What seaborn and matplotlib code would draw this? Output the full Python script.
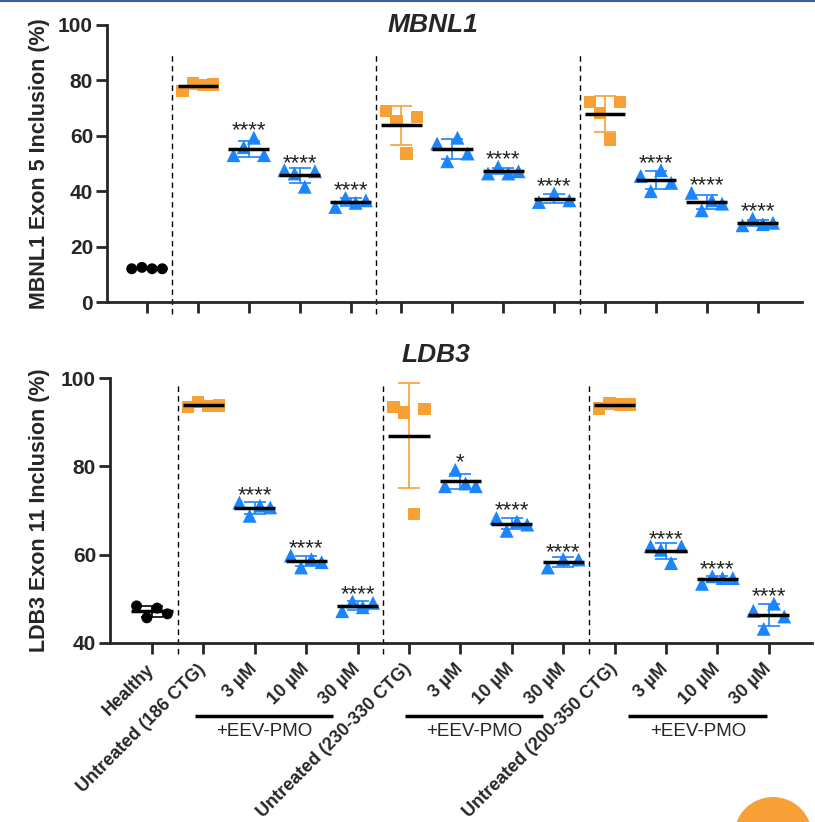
import numpy as np
import pandas as pd
import matplotlib
matplotlib.use("Agg")
import matplotlib.pyplot as plt
import matplotlib.transforms as mtransforms
from matplotlib.patches import Circle
from matplotlib.lines import Line2D
import seaborn as sns

# --- data ---
CATEGORIES = ["Healthy", "Untreated (186 CTG)", "3 µM", "10 µM", "30 µM",
              "Untreated (230-330 CTG)", "3 µM", "10 µM", "30 µM",
              "Untreated (200-350 CTG)", "3 µM", "10 µM", "30 µM"]
KINDS = ["healthy", "untreated", "treated", "treated", "treated",
         "untreated", "treated", "treated", "treated",
         "untreated", "treated", "treated", "treated"]

MBNL1_VALUES = [
    [12.0, 12.5, 12.0, 12.0],
    [76.3, 79.0, 78.3, 78.5],
    [53.0, 55.9, 59.3, 53.0],
    [47.6, 46.4, 41.6, 47.2],
    [34.3, 37.6, 35.8, 36.7],
    [69.0, 65.4, 53.6, 66.9],
    [57.2, 50.8, 59.3, 53.6],
    [46.4, 48.8, 46.4, 47.2],
    [36.1, 39.2, 36.7],
    [72.3, 68.1, 58.7, 72.3],
    [45.5, 40.0, 47.6, 43.0],
    [39.4, 33.1, 36.7, 35.5],
    [27.7, 30.1, 28.1, 28.6],
]
MBNL1_STARS = ["", "", "****", "****", "****", "", "", "****", "****",
               "", "****", "****", "****"]

LDB3_VALUES = [
    [48.4, 45.7, 47.9, 46.6],
    [93.4, 94.5, 93.7, 93.8],
    [71.8, 68.8, 71.1, 70.7],
    [59.8, 57.1, 59.0, 58.3],
    [47.2, 49.4, 48.1, 49.1],
    [93.4, 92.2, 69.2, 93.0],
    [75.5, 79.2, 76.1, 75.5],
    [68.3, 65.4, 67.5, 66.8],
    [57.1, 59.0, 58.9],
    [93.1, 94.2, 94.0, 94.0],
    [61.9, 61.1, 58.1, 61.9],
    [53.4, 55.1, 54.7, 54.7],
    [47.3, 43.2, 48.9, 46.0],
]
LDB3_STARS = ["", "", "****", "****", "****", "", "*", "****", "****",
              "", "****", "****", "****"]

COLORS = {"healthy": "black", "untreated": "#F7A035", "treated": "#1A85FF"}
MARKERS = {"healthy": "o", "untreated": "s", "treated": "^"}
SIZES = {"healthy": 62, "untreated": 78, "treated": 100}

sns.set_style("ticks")
plt.rcParams["font.family"] = ["Liberation Sans", "DejaVu Sans"]
plt.rcParams["font.weight"] = "bold"


def long_table(values):
    rows = []
    for i, vals in enumerate(values):
        offsets = np.linspace(-0.3, 0.3, len(vals))
        for off, v in zip(offsets, vals):
            rows.append({"x": i + off, "value": v, "kind": KINDS[i]})
    return pd.DataFrame(rows)


def draw_panel(ax, values, stars, ylim, yticks, ylabel, sep_top):
    df = long_table(values)
    sns.scatterplot(data=df, x="x", y="value", hue="kind", style="kind",
                    size="kind", sizes=SIZES, palette=COLORS, markers=MARKERS,
                    linewidth=0, legend=False, ax=ax, zorder=3)
    for i, vals in enumerate(values):
        m = np.mean(vals)
        sd = np.std(vals, ddof=1)
        ax.errorbar(i, m, yerr=sd, fmt="none", ecolor=COLORS[KINDS[i]],
                    elinewidth=1.2, capsize=8, capthick=1.2, zorder=2)
        ax.hlines(m, i - 0.4, i + 0.4, color="black", lw=2.5, zorder=4)
        if stars[i]:
            ax.annotate(stars[i], (i, max(vals)), xytext=(0, 1),
                        textcoords="offset points", ha="center", va="baseline",
                        fontsize=16, fontweight="normal", color="#222222")
    trans = mtransforms.blended_transform_factory(ax.transData, ax.transAxes)
    for xs in [0.5, 4.5, 8.5]:
        ax.plot([xs, xs], [-0.042, sep_top], transform=trans, color="black",
                lw=1, ls=(0, (4, 3)), clip_on=False)
    ax.set_ylim(*ylim)
    ax.set_yticks(yticks)
    ax.set_xticks(range(len(CATEGORIES)))
    ax.set_xlabel("")
    ax.set_ylabel(ylabel, fontsize=15.5, fontweight="bold", va="center")
    for side in ["top", "right"]:
        ax.spines[side].set_visible(False)
    for side in ["left", "bottom"]:
        ax.spines[side].set_linewidth(2)
    ax.tick_params(direction="out", length=8, width=2, labelsize=15, pad=2)


fig = plt.figure(figsize=(8.15, 8.22), dpi=100)
ax1 = fig.add_axes([107 / 815, 1 - 302 / 822, 695 / 815, 277 / 822])
ax2 = fig.add_axes([110 / 815, 1 - 643 / 822, 702 / 815, 265 / 822])

draw_panel(ax1, MBNL1_VALUES, MBNL1_STARS, (0, 100), [0, 20, 40, 60, 80, 100],
           "MBNL1 Exon 5 Inclusion (%)", 0.9)
ax1.set_xlim(-0.786, 12.87)
ax1.tick_params(axis="x", labelbottom=False)
ax1.yaxis.set_label_coords((40 - 107) / 695, 0.5)

draw_panel(ax2, LDB3_VALUES, LDB3_STARS, (40, 100), [40, 60, 80, 100],
           "LDB3 Exon 11 Inclusion (%)", 0.983)
ax2.set_xlim(-0.817, 12.84)
ax2.set_xticklabels(CATEGORIES, rotation=45, ha="right", va="center",
                    rotation_mode="anchor", fontsize=13, fontweight="bold")
ax2.tick_params(axis="x", pad=9)
ax2.yaxis.set_label_coords((40 - 110) / 702, 0.5)

# treatment brackets under the rotated labels
btrans = mtransforms.blended_transform_factory(ax2.transData, fig.transFigure)
for x0, x1 in [(0.83, 3.52), (4.92, 7.6), (9.27, 11.97)]:
    ax2.plot([x0, x1], [1 - 716 / 822] * 2, transform=btrans, color="black",
             lw=2.5, clip_on=False, solid_capstyle="butt")
    ax2.text((x0 + x1) / 2, 1 - 731 / 822, "+EEV-PMO", transform=btrans,
             ha="center", va="center", fontsize=13.5, fontweight="normal")

fig.text(433 / 815, 1 - 25 / 822, "MBNL1", ha="center", va="center",
         fontsize=19, fontweight="bold", style="italic")
fig.text(436 / 815, 1 - 355 / 822, "LDB3", ha="center", va="center",
         fontsize=19, fontweight="bold", style="italic")

# page decorations visible in the screenshot
fig.add_artist(Line2D([0, 1], [1 - 1 / 822] * 2, transform=fig.transFigure,
                      color="#3B5BA5", lw=1.5))
fig.add_artist(Circle((7.73, (822 - 836) / 100), 0.39,
                      transform=fig.dpi_scale_trans, color="#F7A035", lw=0))

fig.savefig("out.png", dpi=100)
